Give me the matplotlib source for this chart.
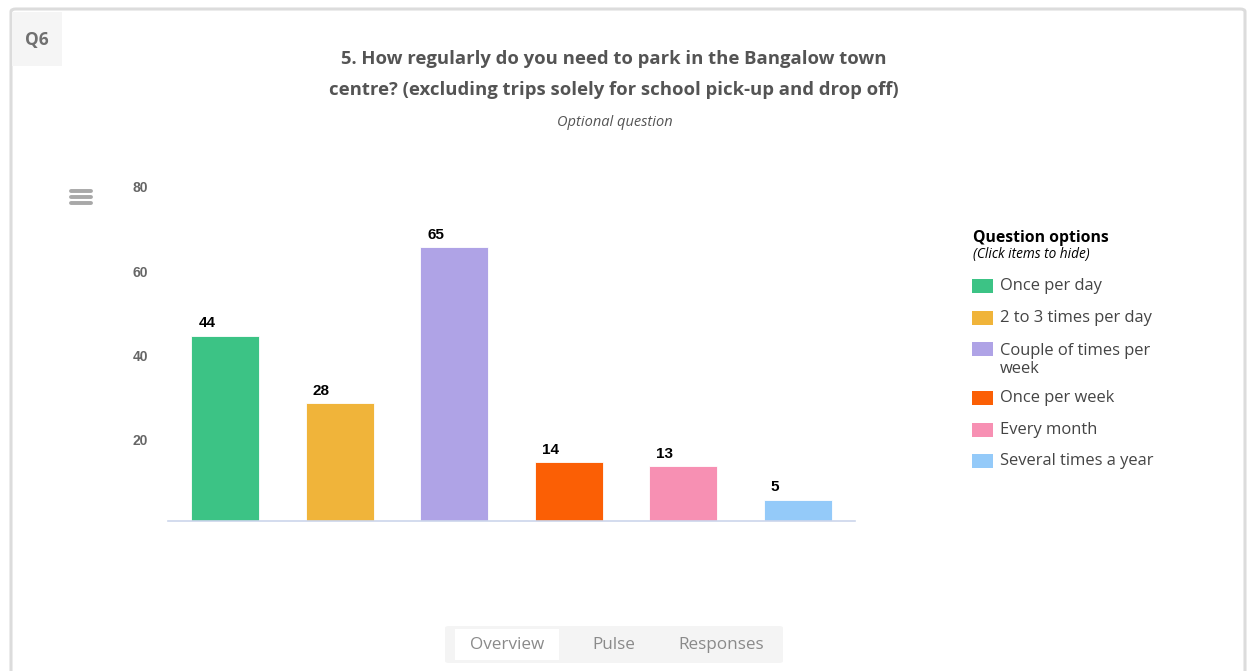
import matplotlib
matplotlib.use("Agg")
import matplotlib.pyplot as plt
from matplotlib.patches import FancyBboxPatch, Rectangle

categories = ["Once per day", "2 to 3 times per day", "Couple of times per\nweek",
              "Once per week", "Every month", "Several times a year"]
values = [44, 28, 65, 14, 13, 5]
colors = ["#3cc385", "#f0b43a", "#afa3e6", "#fb5f05", "#f790b3", "#94caf9"]
yticks = [20, 40, 60, 80]

W, H = 1250, 671
fig = plt.figure(figsize=(W / 100, H / 100), dpi=100)
fig.patch.set_facecolor("white")

def fx(x):
    return x / W

def fy(y):
    return 1 - y / H

# outer card border
fig.patches.append(FancyBboxPatch((fx(11), fy(700)), fx(1234), (700 - 9) / H,
                                  boxstyle="round,pad=0,rounding_size=0.004",
                                  transform=fig.transFigure, facecolor="none",
                                  edgecolor="#dcdcdc", linewidth=2.2, zorder=-10))
# Q6 box
fig.patches.append(Rectangle((fx(12), fy(66)), fx(50), 54 / H, transform=fig.transFigure,
                             facecolor="#f5f5f5", edgecolor="none", zorder=-9))
fig.text(fx(37), fy(40), "Q6", ha="center", va="center", fontsize=12.5,
         fontweight="bold", color="#707070", family="Open Sans")

# title
fig.text(fx(614), fy(59), "5. How regularly do you need to park in the Bangalow town",
         ha="center", va="center", fontsize=13.3, fontweight="bold", color="#545454",
         family="Open Sans")
fig.text(fx(614), fy(90), "centre? (excluding trips solely for school pick-up and drop off)",
         ha="center", va="center", fontsize=13.3, fontweight="bold", color="#545454",
         family="Open Sans")
fig.text(fx(615), fy(122), "Optional question", ha="center", va="center", fontsize=10.5,
         style="italic", color="#555555", family="Open Sans")

# hamburger icon
for yy in (191, 197, 203):
    fig.lines.append(plt.Line2D([fx(71), fx(91)], [fy(yy), fy(yy)], transform=fig.transFigure,
                                color="#a8a8a8", linewidth=2.8, solid_capstyle="round"))

# axes
base, top = 521, 184.2
ax = fig.add_axes([fx(168), fy(base), fx(855 - 168), (base - top) / H])
x = list(range(len(values)))
bw = 0.594
ax.bar(x, values, width=bw, color=colors, edgecolor="white", linewidth=0.6, zorder=2)
ax.set_xlim(-0.5, len(values) - 0.5)
ax.set_ylim(0, 80)
for xi, v in zip(x, values):
    ax.annotate(str(v), xy=(xi - bw / 2, v), xytext=(5.2, 4.0), textcoords="offset points",
                ha="left", va="bottom", fontsize=11, fontweight="bold", color="#000000",
                family="Liberation Sans")
for s in ["top", "right", "left"]:
    ax.spines[s].set_visible(False)
ax.spines["bottom"].set_color("#ccd6eb")
ax.spines["bottom"].set_linewidth(1.2)
ax.set_xticks([])
ax.set_yticks([])
ytr = ax.get_yaxis_transform()
for t in yticks:
    ax.annotate(str(t), xy=(-0.0291, t), xycoords=ytr, xytext=(0, -3.0),
                textcoords="offset points", ha="right", va="center", fontsize=10,
                fontweight="bold", color="#666666", family="Liberation Sans",
                annotation_clip=False)
ax.patch.set_alpha(0)

# legend
fig.text(fx(973), fy(238), "Question options", ha="left", va="center", fontsize=11.3,
         fontweight="bold", color="#000000", family="Open Sans")
fig.text(fx(973), fy(255), "(Click items to hide)", ha="left", va="center", fontsize=9.8,
         style="italic", color="#000000", family="Open Sans")
item_y = [286, 318, 349, 398, 430, 461]
for cat, col, yy in zip(categories, colors, item_y):
    fig.patches.append(Rectangle((fx(972), fy(yy + 7)), fx(21), 14 / H,
                                 transform=fig.transFigure, facecolor=col,
                                 edgecolor="none"))
    multi = "\n" in cat
    fig.text(fx(1000), fy(yy - 6) if multi else fy(yy), cat, ha="left",
             va="top" if multi else "center",
             fontsize=11.9, color="#444444", family="Open Sans", linespacing=1.15)

# bottom tabs
fig.patches.append(FancyBboxPatch((fx(445), fy(663)), fx(338), 37 / H,
                                  boxstyle="round,pad=0,rounding_size=0.003",
                                  transform=fig.transFigure, facecolor="#f4f4f4",
                                  edgecolor="none"))
fig.patches.append(Rectangle((fx(455), fy(660)), fx(104), 31 / H, transform=fig.transFigure,
                             facecolor="white", edgecolor="none"))
for label, cx in [("Overview", 507), ("Pulse", 614), ("Responses", 721)]:
    fig.text(fx(cx), fy(645), label, ha="center", va="center", fontsize=12.3,
             color="#8a8a8a", family="Open Sans")

fig.savefig("out.png", dpi=100)
